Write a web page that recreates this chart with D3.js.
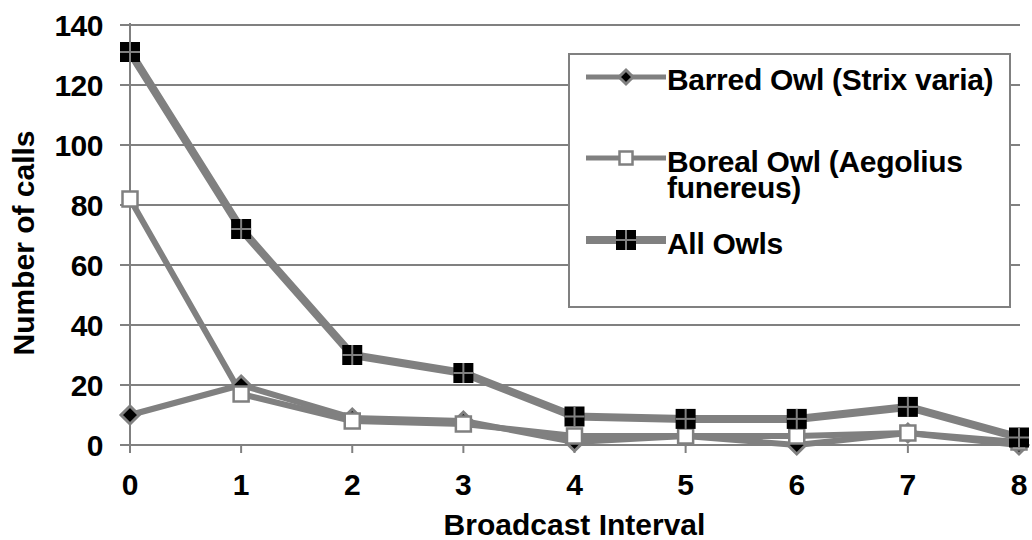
<!DOCTYPE html>
<html><head><meta charset="utf-8">
<script src="https://cdn.jsdelivr.net/npm/d3@7"></script>
<style>body{margin:0;background:#fff}svg{display:block}text{font-family:"Liberation Sans",Arial,sans-serif;font-weight:bold;fill:#000}</style>
</head><body><svg id="c" width="1032" height="540"></svg>
<script>
const intervals = [0,1,2,3,4,5,6,7,8];
const barred = [10,20,9,8,1,3,0,4,0];
const boreal = [82,17,8,7,3,3,3,4,1];
const allOwls = [131,72,30,24,9.5,8.7,8.7,12.7,2.5];
const yTicks = [0,20,40,60,80,100,120,140];
const seriesNames = ["Barred Owl (Strix varia)", ["Boreal Owl (Aegolius","funereus)"], "All Owls"];
const xTitle = "Broadcast Interval", yTitle = "Number of calls";

const svg = d3.select("#c");
const grey = "#808080";
const FS = 30;
const x = d3.scaleLinear().domain([0,8]).range([130,1019]);
const y = d3.scaleLinear().domain([0,140]).range([445,25]);

svg.append("g").selectAll("line").data(yTicks).join("line")
  .attr("x1",120).attr("x2",1020).attr("y1",d=>y(d)).attr("y2",d=>y(d))
  .attr("stroke",grey).attr("stroke-width",2);
svg.append("line").attr("x1",x(0)).attr("x2",x(0)).attr("y1",y(140)-2).attr("y2",452)
  .attr("stroke",grey).attr("stroke-width",2);
svg.append("g").selectAll("line").data(intervals).join("line")
  .attr("x1",d=>x(d)).attr("x2",d=>x(d)).attr("y1",445).attr("y2",453)
  .attr("stroke",grey).attr("stroke-width",2);
svg.append("g").selectAll("text").data(yTicks).join("text")
  .attr("x",103).attr("y",d=>y(d)).attr("dy","0.36em").attr("text-anchor","end")
  .attr("font-size",FS).attr("letter-spacing",-0.5).text(d=>d);
svg.append("g").selectAll("text").data(intervals).join("text")
  .attr("x",d=>x(d)).attr("y",495).attr("text-anchor","middle")
  .attr("font-size",FS).text(d=>d);
svg.append("text").attr("x",(x(0)+x(8))/2).attr("y",535).attr("text-anchor","middle")
  .attr("font-size",FS).text(xTitle);
svg.append("text").attr("transform","translate(34,243) rotate(-90)").attr("text-anchor","middle")
  .attr("font-size",FS).text(yTitle);

const line = d3.line().x((d,i)=>x(intervals[i])).y(d=>y(d));
function drawLine(data,w){
  svg.append("path").datum(data).attr("d",line).attr("fill","none")
    .attr("stroke",grey).attr("stroke-width",w).attr("stroke-linejoin","round");
}
function diamond(g,cx,cy,s){
  g.append("path").attr("d",`M${cx},${cy-s}L${cx+s},${cy}L${cx},${cy+s}L${cx-s},${cy}Z`)
   .attr("fill","#000").attr("stroke",grey).attr("stroke-width",3);
}
function square(g,cx,cy,s){
  g.append("rect").attr("x",cx-s/2).attr("y",cy-s/2).attr("width",s).attr("height",s)
   .attr("fill","#fff").attr("stroke",grey).attr("stroke-width",2.5);
}
function plus(g,cx,cy,s){
  g.append("rect").attr("x",cx-s/2).attr("y",cy-s/2).attr("width",s).attr("height",s).attr("fill","#000");
  g.append("line").attr("x1",cx-s/2).attr("x2",cx+s/2).attr("y1",cy).attr("y2",cy).attr("stroke",grey).attr("stroke-width",2);
  g.append("line").attr("x1",cx).attr("x2",cx).attr("y1",cy-s/2).attr("y2",cy+s/2).attr("stroke",grey).attr("stroke-width",2);
}
drawLine(barred,6);
drawLine(boreal,6);
drawLine(allOwls,8);
const gm = svg.append("g");
barred.forEach((v,i)=>diamond(gm,x(intervals[i]),y(v),9));
boreal.forEach((v,i)=>square(gm,x(intervals[i]),y(v),15));
allOwls.forEach((v,i)=>plus(gm,x(intervals[i]),y(v),20));

const lg = svg.append("g");
lg.append("rect").attr("x",569).attr("y",54).attr("width",441).attr("height",253)
  .attr("fill","#fff").attr("stroke",grey).attr("stroke-width",2);
const ly = [77,158,240];
const markers = [(g,cx,cy)=>diamond(g,cx,cy,7),(g,cx,cy)=>square(g,cx,cy,13),(g,cx,cy)=>plus(g,cx,cy,20)];
ly.forEach((yy,i)=>{
  lg.append("line").attr("x1",586).attr("x2",666).attr("y1",yy).attr("y2",yy)
    .attr("stroke",grey).attr("stroke-width",i==2?8:5);
  markers[i](lg,626,yy);
});
const lt = lg.append("g").attr("font-size",FS).attr("letter-spacing",-0.3);
lt.append("text").attr("x",667).attr("y",90).text(seriesNames[0]);
const t2 = lt.append("text").attr("x",667).attr("y",172);
t2.append("tspan").attr("x",667).text(seriesNames[1][0]);
t2.append("tspan").attr("x",667).attr("dy",26).text(seriesNames[1][1]);
lt.append("text").attr("x",667).attr("y",254).text(seriesNames[2]);
</script></body></html>
